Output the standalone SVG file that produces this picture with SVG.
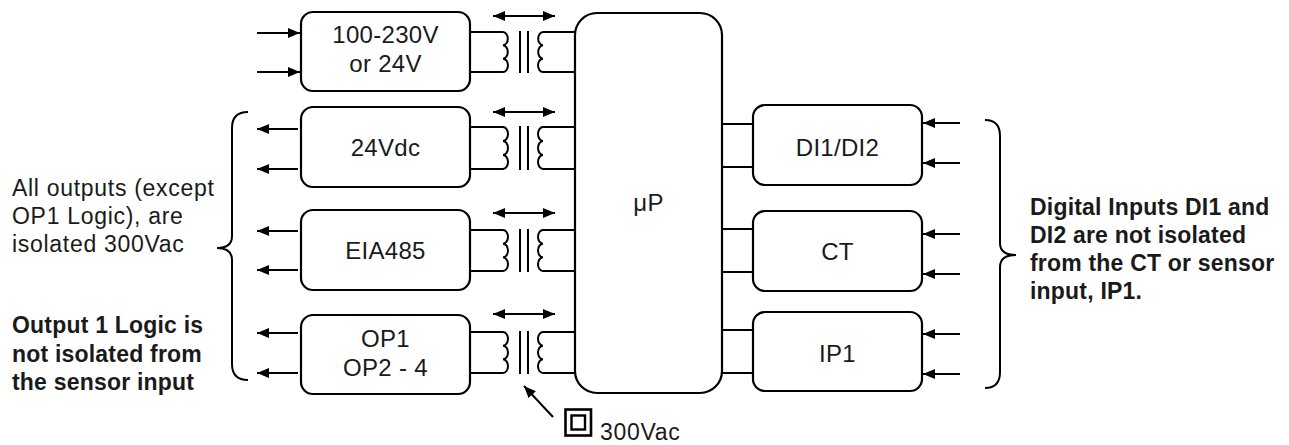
<svg xmlns="http://www.w3.org/2000/svg" width="1289" height="445" viewBox="0 0 1289 445">
<style>
.box{fill:#fff;stroke:#000;stroke-width:2.2}
.ln{fill:none;stroke:#000;stroke-width:2}
.arr{fill:none;stroke:#000;stroke-width:2;marker-end:url(#ah)}
.darr{fill:none;stroke:#000;stroke-width:2;marker-end:url(#ah);marker-start:url(#ahs)}
.lbl{font-family:"Liberation Sans",Arial,sans-serif;font-size:24px;fill:#1a1a1a;text-anchor:middle;letter-spacing:0.3px}
.note{font-family:"Liberation Sans",Arial,sans-serif;font-size:23px;fill:#1a1a1a;letter-spacing:0.7px}
.bold{font-weight:bold;letter-spacing:0.2px}
</style>
<defs>
<marker id="ah" markerUnits="userSpaceOnUse" markerWidth="12" markerHeight="10" refX="12" refY="5" orient="auto"><path d="M0,0 L12,5 L0,10 z" fill="#000"/></marker>
<marker id="ahs" markerUnits="userSpaceOnUse" markerWidth="12" markerHeight="10" refX="12" refY="5" orient="auto-start-reverse"><path d="M0,0 L12,5 L0,10 z" fill="#000"/></marker>
</defs>

<g id="connectors">
<line class="arr" x1="257" y1="33" x2="300" y2="33"/>
<line class="arr" x1="257" y1="72" x2="300" y2="72"/>
<line class="arr" x1="298" y1="129" x2="257" y2="129"/>
<line class="arr" x1="298" y1="169" x2="257" y2="169"/>
<line class="arr" x1="298" y1="231" x2="257" y2="231"/>
<line class="arr" x1="298" y1="270" x2="257" y2="270"/>
<line class="arr" x1="298" y1="333" x2="257" y2="333"/>
<line class="arr" x1="298" y1="373" x2="257" y2="373"/>
<line class="arr" x1="960" y1="123" x2="923" y2="123"/>
<line class="arr" x1="960" y1="163" x2="923" y2="163"/>
<line class="arr" x1="960" y1="234" x2="923" y2="234"/>
<line class="arr" x1="960" y1="274" x2="923" y2="274"/>
<line class="arr" x1="960" y1="334" x2="923" y2="334"/>
<line class="arr" x1="960" y1="374" x2="923" y2="374"/>
<line class="ln" x1="722" y1="124" x2="753" y2="124"/>
<line class="ln" x1="722" y1="167" x2="753" y2="167"/>
<line class="ln" x1="722" y1="229" x2="753" y2="229"/>
<line class="ln" x1="722" y1="272" x2="753" y2="272"/>
<line class="ln" x1="722" y1="330" x2="753" y2="330"/>
<line class="ln" x1="722" y1="373" x2="753" y2="373"/>
<line class="darr" x1="493" y1="16" x2="555" y2="16"/>
<line class="darr" x1="493" y1="112" x2="555" y2="112"/>
<line class="darr" x1="493" y1="213" x2="555" y2="213"/>
<line class="darr" x1="493" y1="314" x2="555" y2="314"/>
<line class="arr" x1="553" y1="417" x2="524" y2="386"/>
</g>

<g id="transformer1">
<path class="ln" d="M470,32 H503 a5,6.67 0 0 1 0,13.33 a5,6.67 0 0 1 0,13.33 a5,6.67 0 0 1 0,13.34 H470"/>
<line class="ln" x1="520" y1="31" x2="520" y2="73"/><line class="ln" x1="528" y1="31" x2="528" y2="73"/>
<path class="ln" d="M575,32 H543 a5,6.67 0 0 0 0,13.33 a5,6.67 0 0 0 0,13.33 a5,6.67 0 0 0 0,13.34 H575"/>
</g>
<g id="transformer2">
<path class="ln" d="M470,127 H503 a5,7 0 0 1 0,14 a5,7 0 0 1 0,14 a5,7 0 0 1 0,14 H470"/>
<line class="ln" x1="520" y1="126" x2="520" y2="170"/><line class="ln" x1="528" y1="126" x2="528" y2="170"/>
<path class="ln" d="M575,127 H543 a5,7 0 0 0 0,14 a5,7 0 0 0 0,14 a5,7 0 0 0 0,14 H575"/>
</g>
<g id="transformer3">
<path class="ln" d="M470,230 H503 a5,6.83 0 0 1 0,13.67 a5,6.83 0 0 1 0,13.67 a5,6.83 0 0 1 0,13.66 H470"/>
<line class="ln" x1="520" y1="229" x2="520" y2="272"/><line class="ln" x1="528" y1="229" x2="528" y2="272"/>
<path class="ln" d="M575,230 H543 a5,6.83 0 0 0 0,13.67 a5,6.83 0 0 0 0,13.67 a5,6.83 0 0 0 0,13.66 H575"/>
</g>
<g id="transformer4">
<path class="ln" d="M470,332 H503 a5,6.83 0 0 1 0,13.67 a5,6.83 0 0 1 0,13.67 a5,6.83 0 0 1 0,13.66 H470"/>
<line class="ln" x1="520" y1="331" x2="520" y2="374"/><line class="ln" x1="528" y1="331" x2="528" y2="374"/>
<path class="ln" d="M575,332 H543 a5,6.83 0 0 0 0,13.67 a5,6.83 0 0 0 0,13.67 a5,6.83 0 0 0 0,13.66 H575"/>
</g>

<g id="psu"><rect class="box" x="301" y="12" width="169" height="79" rx="12"/>
<text class="lbl" x="385.5" y="43">100-230V</text><text class="lbl" x="385.5" y="72">or 24V</text></g>
<g id="out24vdc"><rect class="box" x="301" y="107" width="169" height="80" rx="12"/>
<text class="lbl" x="385.5" y="156">24Vdc</text></g>
<g id="eia485"><rect class="box" x="301" y="210" width="169" height="80" rx="12"/>
<text class="lbl" x="385.5" y="259">EIA485</text></g>
<g id="outputs"><rect class="box" x="301" y="315" width="169" height="79" rx="12"/>
<text class="lbl" x="385.5" y="347">OP1</text><text class="lbl" x="385.5" y="376">OP2 - 4</text></g>

<g id="up"><rect class="box" x="575" y="13" width="147" height="380" rx="22"/>
<text class="lbl" x="648.5" y="211">μP</text></g>

<g id="di"><rect class="box" x="753" y="105" width="169" height="80" rx="12"/>
<text class="lbl" x="837.5" y="156">DI1/DI2</text></g>
<g id="ct"><rect class="box" x="753" y="211" width="169" height="80" rx="12"/>
<text class="lbl" x="837.5" y="260">CT</text></g>
<g id="ip1"><rect class="box" x="753" y="312" width="169" height="79" rx="12"/>
<text class="lbl" x="837.5" y="362">IP1</text></g>

<g id="left-brace"><path class="ln" d="M248,112 Q232,112 232,128 L232,236 Q232,248 217,248 Q232,248 232,260 L232,364 Q232,380 248,380"/></g>
<g id="right-brace"><path class="ln" d="M985,120 Q1000,120 1000,136 L1000,243 Q1000,255 1016,255 Q1000,255 1000,267 L1000,372 Q1000,388 985,388"/></g>

<g id="note-left">
<text class="note" x="12" y="196">All outputs (except</text>
<text class="note" x="12" y="224">OP1 Logic), are</text>
<text class="note" x="12" y="252">isolated 300Vac</text>
</g>
<g id="note-left-bold">
<text class="note bold" x="12" y="333">Output 1 Logic is</text>
<text class="note bold" x="12" y="362">not isolated from</text>
<text class="note bold" x="12" y="390">the sensor input</text>
</g>
<g id="note-right">
<text class="note bold" x="1030" y="215">Digital Inputs DI1 and</text>
<text class="note bold" x="1030" y="243">DI2 are not isolated</text>
<text class="note bold" x="1030" y="271">from the CT or sensor</text>
<text class="note bold" x="1030" y="299">input, IP1.</text>
</g>

<g id="double-insulation">
<rect x="565.5" y="409.5" width="25.5" height="26" fill="none" stroke="#000" stroke-width="2.6"/>
<rect x="571.5" y="415.5" width="13.5" height="14" fill="none" stroke="#000" stroke-width="2.4"/>
<text class="note" x="600" y="440">300Vac</text>
</g>
</svg>
